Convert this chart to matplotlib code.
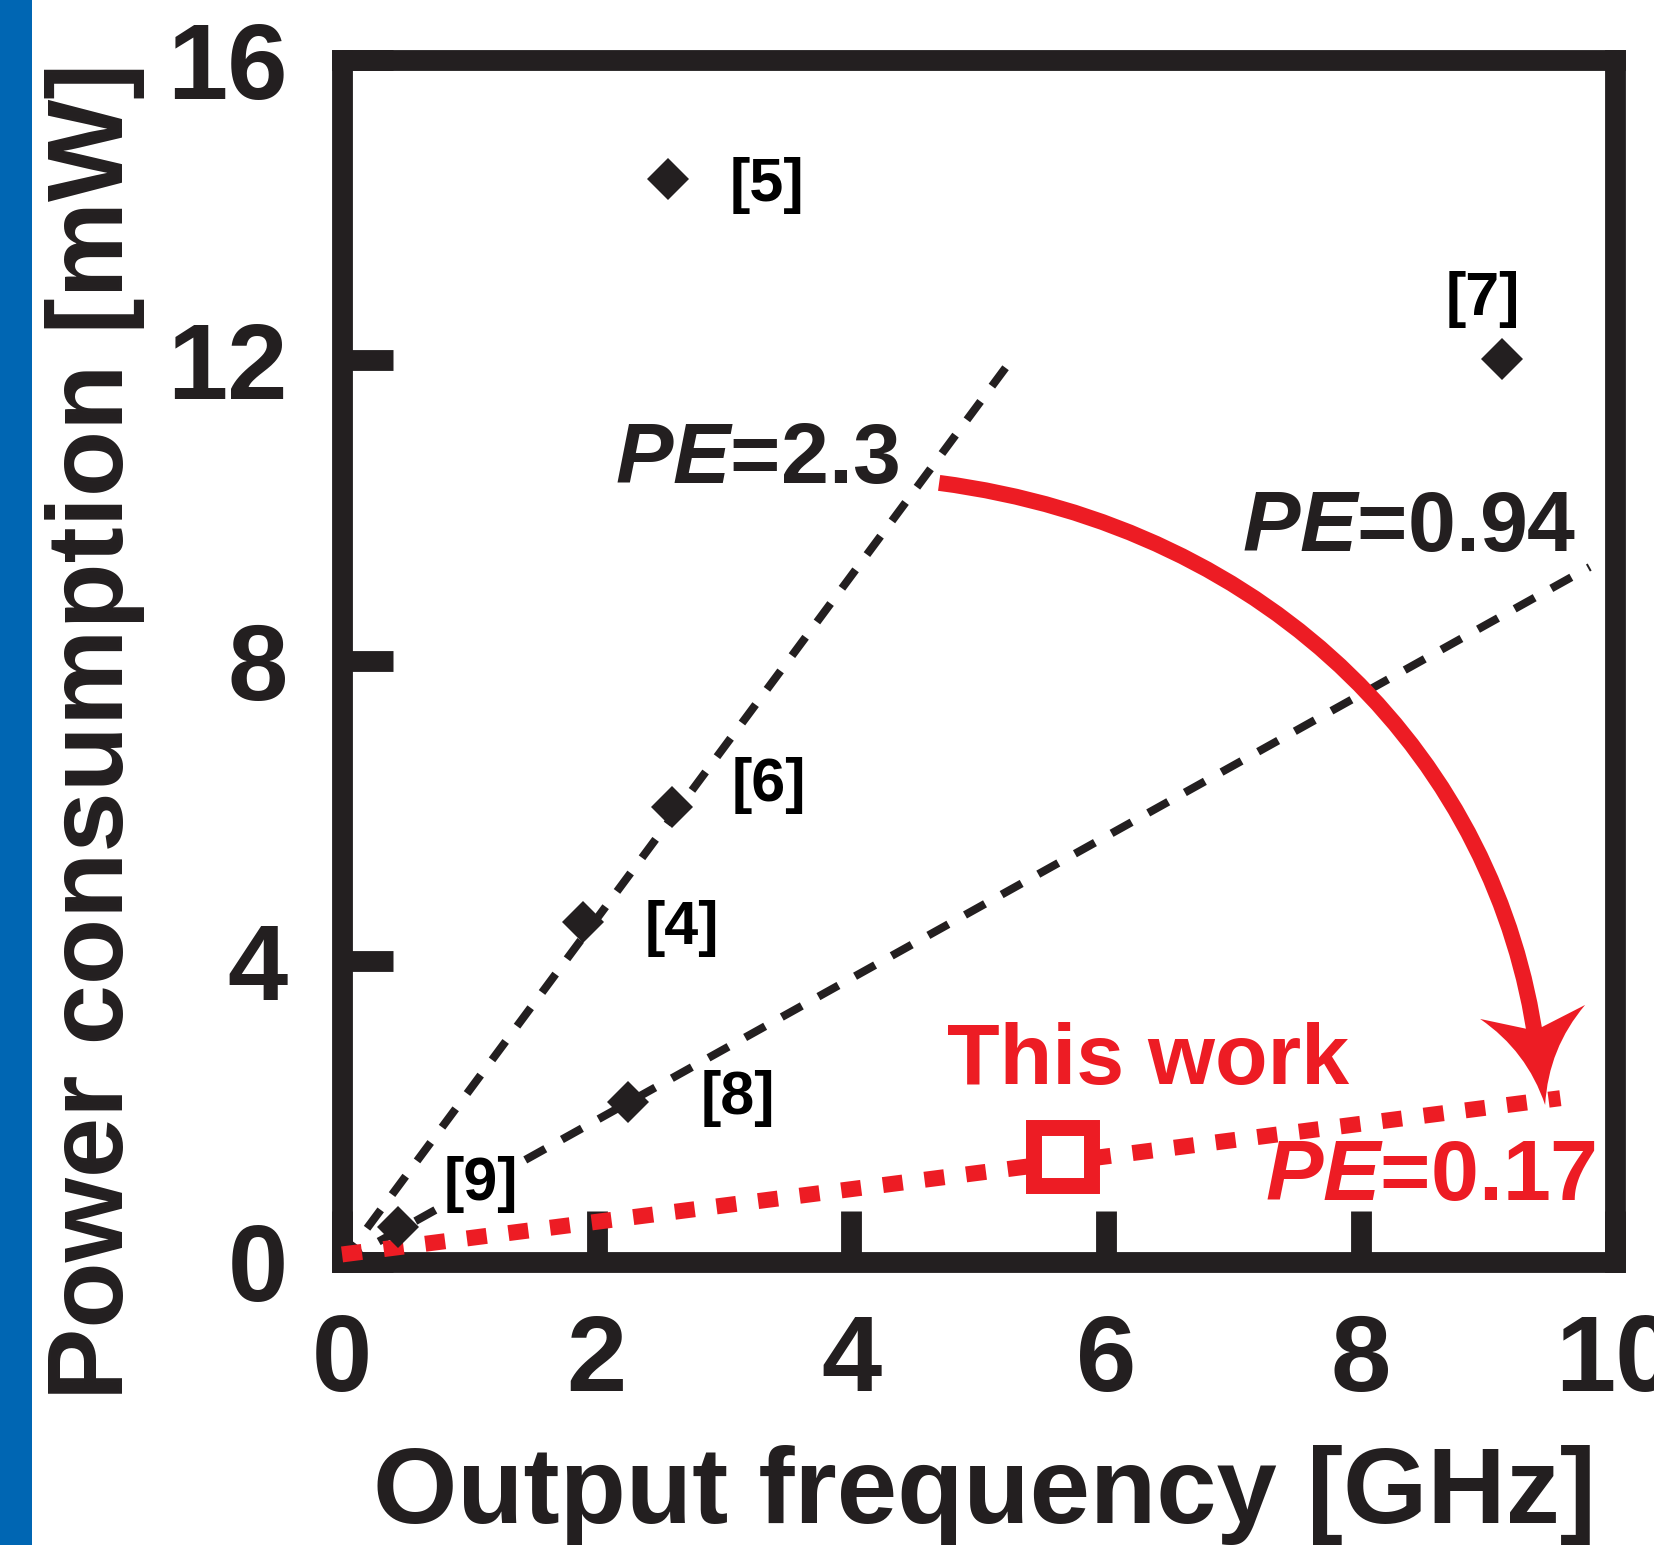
import matplotlib
matplotlib.use("Agg")
import numpy as np
import matplotlib.pyplot as plt
from matplotlib.patches import Rectangle, FancyArrowPatch, PathPatch
from matplotlib.path import Path

# ---------------- data ----------------
ref_labels = ['[4]', '[5]', '[6]', '[7]', '[8]', '[9]']
ref_freq = [1.89, 2.56, 2.59, 9.11, 2.25, 0.44]      # GHz
ref_power = [4.53, 14.41, 6.05, 12.02, 2.13, 0.47]   # mW

this_freq = [5.66]
this_power = [1.40]

pe23_x = [0.0, 5.25]
pe23_y = [0.0, 11.99]
pe094_x = [0.0, 9.80]
pe094_y = [0.0, 9.25]
pe017_x = [0.0, 9.57]
pe017_y = [0.10, 2.18]

xticks = [0, 2, 4, 6, 8, 10]
yticks = [0, 4, 8, 12, 16]

# annotation arrow (cubic Bezier, data coords); last point = arrow tip
arrow_x = [4.69, 7.34, 9.08, 9.45]
arrow_y = [10.37, 9.78, 6.62, 2.09]

# ---------------- style ----------------
BLACK = '#231f20'
RED = '#ed1c24'
BLUE = '#0066b3'

plt.rcParams['font.family'] = ['Liberation Sans', 'DejaVu Sans']
plt.rcParams['font.weight'] = 'bold'
plt.rcParams['mathtext.fontset'] = 'custom'
plt.rcParams['mathtext.it'] = 'Liberation Sans:italic:bold'
plt.rcParams['mathtext.rm'] = 'Liberation Sans:bold'
plt.rcParams['lines.scale_dashes'] = False

fig = plt.figure(figsize=(16.54, 15.45), dpi=100)
fig.patches.append(Rectangle((0, 0), 32 / 1654, 1, transform=fig.transFigure,
                             facecolor=BLUE, edgecolor='none'))

ax = fig.add_axes([0.2068, 0.1832, 0.7697, 0.778])
ax.set_xlim(0, 10)
ax.set_ylim(0, 16)
for sp in ax.spines.values():
    sp.set_linewidth(15)
    sp.set_color(BLACK)
ax.set_xticks(xticks)
ax.set_yticks(yticks)
ax.set_xticklabels([str(v) for v in xticks])
ax.set_yticklabels([str(v) for v in yticks])
ax.tick_params(direction='in', length=37, width=15, color=BLACK,
               labelcolor=BLACK, labelsize=78)
ax.tick_params(axis='x', pad=37)
ax.tick_params(axis='y', pad=39)

# PE lines
ax.plot(pe23_x, pe23_y, color=BLACK, lw=5.8, dashes=(16.5, 13.7),
        dash_capstyle='butt', zorder=3)
ax.plot(pe094_x, pe094_y, color=BLACK, lw=5.8, dashes=(16.5, 13.7),
        dash_capstyle='butt', zorder=3)
ax.plot(pe017_x, pe017_y, color=RED, lw=11.5, dashes=(14.4, 15.8),
        dash_capstyle='butt', zorder=4, clip_on=False)

# reference points
ax.plot(ref_freq, ref_power, linestyle='none', marker='D', markersize=21,
        markerfacecolor=BLACK, markeredgewidth=0, zorder=5)

# this work
ax.plot(this_freq, this_power, linestyle='none', marker='s', markersize=41.8,
        markerfacecolor='white', markeredgecolor=RED, markeredgewidth=11.5,
        zorder=6)

# reference labels
label_pos = {'[4]': (2.67, 4.44), '[5]': (3.34, 14.33), '[6]': (3.35, 6.34),
             '[7]': (8.96, 12.81), '[8]': (3.11, 2.17), '[9]': (1.09, 1.03)}
for lab in ref_labels:
    x, y = label_pos[lab]
    kw = {}
    if lab == '[9]':
        kw['bbox'] = dict(facecolor='white', edgecolor='none', pad=3)
    ax.text(x, y, lab, fontsize=44, color='black', ha='center', va='center',
            zorder=4.5, **kw)

# PE annotations
ax.text(3.26, 10.37, r'$\mathit{PE}$=2.3', fontsize=62, color=BLACK,
        ha='center', va='baseline', zorder=7)
ax.text(8.38, 9.47, r'$\mathit{PE}$=0.94', fontsize=62, color=BLACK,
        ha='center', va='baseline', zorder=7)
ax.text(8.55, 0.83, r'$\mathit{PE}$=0.17', fontsize=62, color=RED,
        ha='center', va='baseline', zorder=7)
ax.text(6.33, 2.37, 'This work', fontsize=62, color=RED,
        ha='center', va='baseline', zorder=7)

# curved arrow: shaft + concave arrow head
to_disp = ax.transData.transform
to_data = ax.transData.inverted().transform
tip_d = to_disp((arrow_x[-1], arrow_y[-1]))
# head outline offsets from the tip in pixels (x right, y down)
head_off = np.array([
    (0, 0), (-18.1, -53.9), (-65, -86),      # left concave side up to left wing
    (-18, -76), (-3, -78),                   # back notch
    (40, -100), (3.3, -56.7), (0, 0),        # right wing, concave side to tip
])
head_codes = [Path.MOVETO, Path.CURVE3, Path.CURVE3,
              Path.LINETO, Path.LINETO,
              Path.LINETO, Path.CURVE3, Path.CURVE3]
head_pts = to_data(tip_d + head_off * np.array([1, -1]))
ax.add_patch(PathPatch(Path(head_pts, head_codes), facecolor=RED,
                       edgecolor='none', zorder=6, clip_on=False))

shaft_end = to_data(tip_d + np.array([-9, 62]))
shaft_pts = list(zip(arrow_x[:-1], arrow_y[:-1])) + [tuple(shaft_end)]
shaft = FancyArrowPatch(path=Path(shaft_pts, [Path.MOVETO, Path.CURVE4,
                                              Path.CURVE4, Path.CURVE4]),
                        arrowstyle='-', mutation_scale=1, lw=11.5, color=RED,
                        capstyle='butt', zorder=6, clip_on=False)
ax.add_patch(shaft)

# axis labels
fig.text(0.0744, 0.5269, 'Power consumption [mW]', rotation=90,
         rotation_mode='anchor', ha='center', va='baseline', fontsize=78,
         color=BLACK)
fig.text(0.5949, 0.0142, 'Output frequency [GHz]', ha='center', va='baseline',
         fontsize=78, color=BLACK)

fig.savefig('out.png', dpi=100)
